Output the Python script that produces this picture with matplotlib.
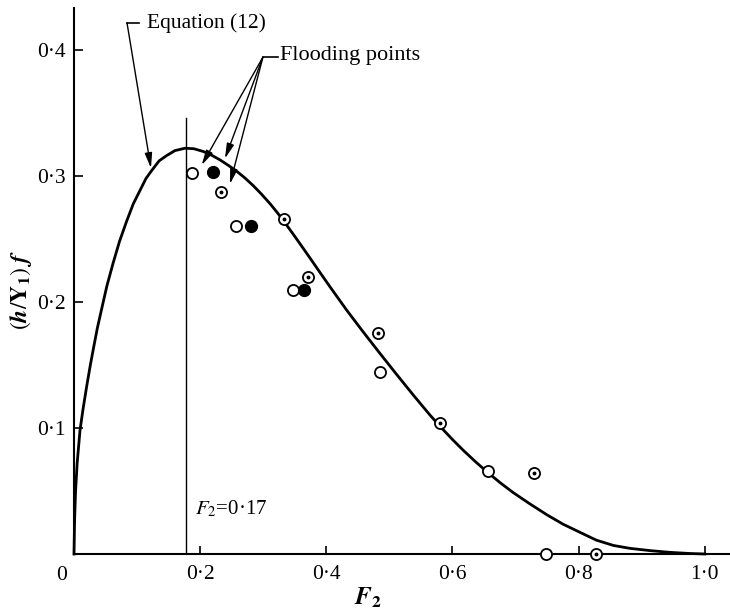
import matplotlib
matplotlib.use('Agg')
import matplotlib.pyplot as plt

plt.rcParams['font.family'] = ['Liberation Serif', 'DejaVu Serif']
plt.rcParams['mathtext.fontset'] = 'stix'

# curve of equation (12)
curve_x = [0.000, 0.001, 0.0025, 0.005, 0.0095, 0.014, 0.020, 0.026, 0.031, 0.037,
           0.044, 0.052, 0.062, 0.072, 0.0835, 0.094, 0.105, 0.114, 0.123, 0.135,
           0.147, 0.160, 0.176, 0.190, 0.205, 0.218, 0.231, 0.245, 0.258, 0.271,
           0.284, 0.297, 0.311, 0.322, 0.333, 0.350, 0.370, 0.388, 0.4057, 0.432,
           0.4585, 0.485, 0.511, 0.538, 0.564, 0.580, 0.600, 0.617, 0.636, 0.6556,
           0.676, 0.696, 0.722, 0.750, 0.7755, 0.800, 0.828, 0.855, 0.881, 0.913,
           0.945, 0.976, 1.000]
curve_y = [0.000, 0.028, 0.050, 0.072, 0.098, 0.1138, 0.1327, 0.1501, 0.1635, 0.1791,
           0.1947, 0.2123, 0.2307, 0.2477, 0.2640, 0.2777, 0.2887, 0.2977, 0.3040, 0.3118,
           0.3160, 0.3199, 0.3218, 0.3214, 0.3192, 0.3163, 0.3127, 0.3081, 0.3035, 0.2982,
           0.2922, 0.2855, 0.2777, 0.2709, 0.2637, 0.2519, 0.2377, 0.2247, 0.2120, 0.1936,
           0.1761, 0.1591, 0.1427, 0.1260, 0.1104, 0.1014, 0.0908, 0.0823, 0.0734, 0.0648,
           0.0564, 0.0488, 0.0400, 0.0310, 0.0236, 0.0177, 0.0110, 0.0068, 0.0045, 0.0027,
           0.0013, 0.0004, 0.000]

# experimental points
open_x = [0.1865, 0.257, 0.3475, 0.485, 0.656, 0.749]
open_y = [0.302, 0.260, 0.209, 0.144, 0.066, 0.0]
filled_x = [0.221, 0.280, 0.365]
filled_y = [0.303, 0.260, 0.209]
dot_x = [0.2325, 0.333, 0.371, 0.482, 0.580, 0.729, 0.827]
dot_y = [0.287, 0.266, 0.220, 0.175, 0.104, 0.064, 0.0]

F2_crit = 0.177
xticks = [0.2, 0.4, 0.6, 0.8, 1.0]
xticklabels = ['0·2', '0·4', '0·6', '0·8', '1·0']
yticks = [0.1, 0.2, 0.3, 0.4]
yticklabels = ['0·1', '0·2', '0·3', '0·4']

fig = plt.figure(figsize=(7.3, 6.11), dpi=100)
ax = fig.add_axes([74/730, 57/611, 656/730, 546/611])
ax.set_xlim(0, 1.04)
ax.set_ylim(0, 0.433)

for s in ['top', 'right']:
    ax.spines[s].set_visible(False)
for s in ['left', 'bottom']:
    ax.spines[s].set_linewidth(1.5)

ax.plot(curve_x, curve_y, color='black', lw=2.0, zorder=3, clip_on=False,
        solid_joinstyle='round')
ax.plot([F2_crit, F2_crit], [0, 0.346], color='black', lw=1.0, zorder=2)

ax.plot(open_x, open_y, ls='none', marker='o', ms=8, mfc='white', mec='black',
        mew=1.3, zorder=5, clip_on=False)
ax.plot(dot_x, dot_y, ls='none', marker='o', ms=8, mfc='white', mec='black',
        mew=1.3, zorder=5, clip_on=False)
ax.plot(dot_x, dot_y, ls='none', marker='o', ms=1.8, mfc='black', mec='black',
        zorder=6, clip_on=False)
ax.plot(filled_x, filled_y, ls='none', marker='o', ms=8.5, mfc='black', mec='black',
        zorder=5, clip_on=False)

ax.set_xticks(xticks)
ax.set_xticklabels(xticklabels, fontsize=15.5)
ax.set_yticks(yticks)
ax.set_yticklabels(yticklabels, fontsize=15.5)
ax.tick_params(axis='x', direction='in', length=6, width=1.2, pad=8)
ax.tick_params(axis='y', direction='in', length=6.5, width=1.2, pad=6)
ax.text(-0.0195, -0.0167, '0', fontsize=15.5, ha='center', va='center')

# axis titles
ax.text(0.466, -0.035, r'$\mathbfit{F}_{\mathbf{2}}$', fontsize=18, ha='center', va='center')
fig.text(21/730, 1 - 290/611, r'$(\mathbfit{h}/\mathbf{Y}_{\mathbf{1}})\ \mathbfit{f}$',
         fontsize=17, rotation=90, ha='center', va='center')

ax.text(0.192, 0.036, r'$F_2$=0·17', fontsize=15, ha='left', va='center')

# Equation (12) label
arrow = dict(arrowstyle='-|>,head_length=0.9,head_width=0.22', color='black',
             lw=1.0, shrinkA=0, shrinkB=0)
ax.plot([0.084, 0.103], [0.4213, 0.4213], color='black', lw=1.2)
ax.annotate('', xy=(0.122, 0.306), xytext=(0.084, 0.4213), arrowprops=arrow)
ax.text(0.115, 0.4213, 'Equation (12)', fontsize=15.5, ha='left', va='center')

# Flooding points label
ax.plot([0.2995, 0.323], [0.394, 0.394], color='black', lw=1.2)
for tip in [(0.2024, 0.3084), (0.2393, 0.3136), (0.2472, 0.2934)]:
    ax.annotate('', xy=tip, xytext=(0.2995, 0.394), arrowprops=arrow)
ax.text(0.3265, 0.3957, 'Flooding points', fontsize=16, ha='left', va='center')

fig.savefig('out.png', dpi=100)
